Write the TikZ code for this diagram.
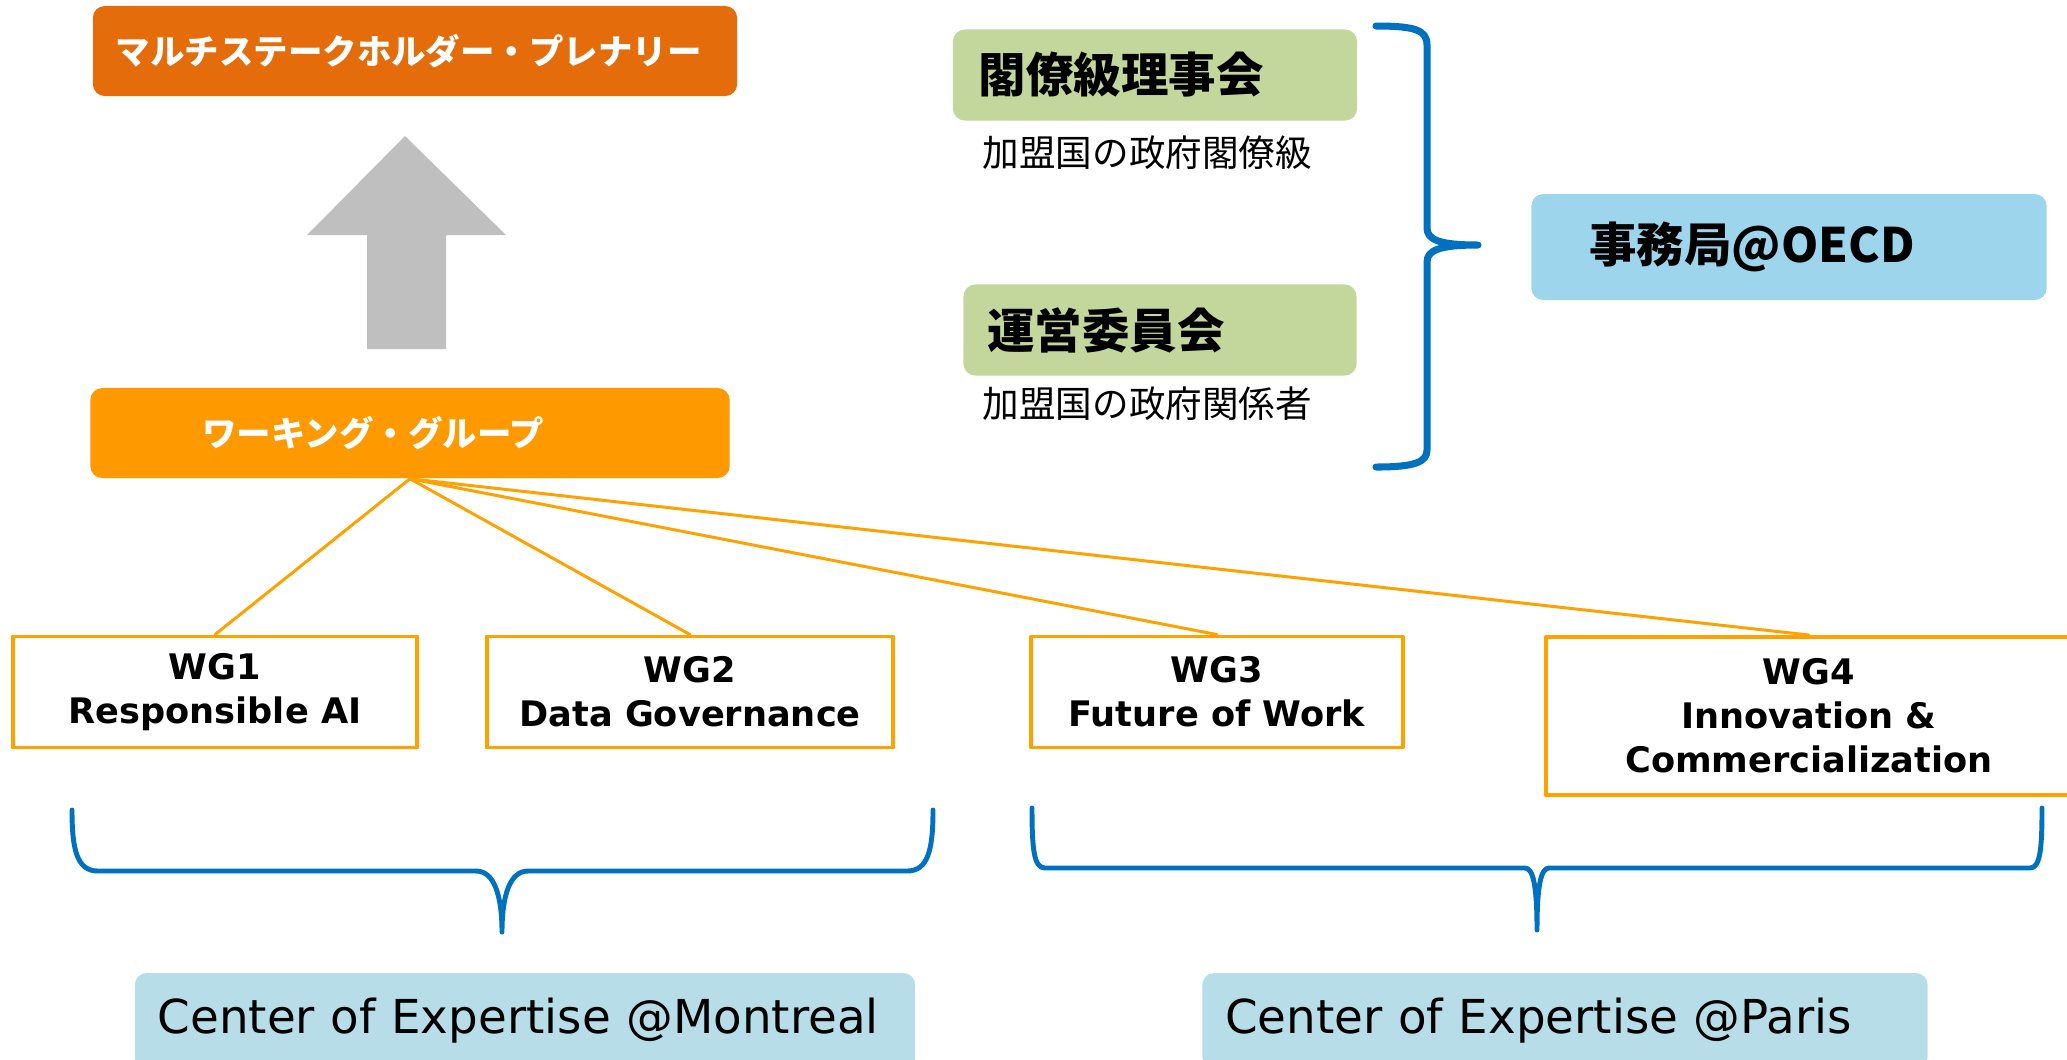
\documentclass[tikz,border=0pt]{standalone}
\usepackage{fontspec}
\setmainfont{DejaVu Sans}
\newfontfamily\jpfont{Noto Sans CJK JP}
\definecolor{plenorange}{HTML}{E46C0A}
\definecolor{wgorange}{HTML}{FF9900}
\definecolor{lineorange}{HTML}{FFA200}
\definecolor{boardgreen}{HTML}{C3D69B}
\definecolor{secblue}{HTML}{9DD5EC}
\definecolor{coeblue}{HTML}{B7DEE8}
\definecolor{braceblue}{HTML}{0070C0}
\definecolor{arrowgray}{HTML}{BFBFBF}

\begin{document}
\begin{tikzpicture}[x=0.01cm,y=-0.01cm,line cap=round,line join=round,
  box/.style={rounded corners=0.12cm,inner sep=0pt,align=left},
  wgbox/.style={draw=lineorange,line width=1.1pt,fill=white,inner sep=0pt,align=center,
    minimum height=1.11cm,font=\bfseries\fontsize{10}{12.5}\selectfont},
  conn/.style={draw=lineorange,line width=0.85pt},
  brace/.style={draw=braceblue,line width=1.4pt}]
  \useasboundingbox (0,0) rectangle (2067,1059);
  \node[box,fill=plenorange,minimum width=6.44cm,minimum height=0.90cm,text width=5.98cm,
    text=white,font=\jpfont\bfseries\fontsize{9.8}{12}\selectfont] (plenary) at (415,51) {マルチステークホルダー・プレナリー};
  \fill[arrowgray] (405,136) -- (506,235) -- (446,235) -- (446,349) -- (367,349) -- (367,235) -- (307,235) -- cycle;
  \node[box,fill=wgorange,minimum width=6.39cm,minimum height=0.90cm,text width=4.15cm,
    text=white,font=\jpfont\bfseries\fontsize{9.8}{12}\selectfont] (wgall) at (410,433) {ワーキング・グループ};
  \node[wgbox,minimum width=4.04cm] (wg1) at (215,692) {WG1\\Responsible AI};
  \node[wgbox,minimum width=4.06cm] (wg2) at (690,692) {WG2\\Data Governance};
  \node[wgbox,minimum width=3.71cm] (wg3) at (1217,692) {WG3\\Future of Work};
  \node[wgbox,minimum width=5.26cm,minimum height=1.58cm] (wg4) at (1809,716) {WG4\\Innovation \&\\Commercialization};
  \foreach \wg in {wg1,wg2,wg3,wg4}
    \draw[conn] (wgall.south) -- (\wg.north);
  \node[box,fill=boardgreen,minimum width=4.04cm,minimum height=0.91cm,text width=3.52cm,
    font=\jpfont\bfseries\fontsize{13.5}{15}\selectfont] (council) at (1155,75) {閣僚級理事会};
  \node[anchor=west,inner sep=0pt,font=\jpfont\fontsize{10.4}{12}\selectfont] (councilnote) at (982,153) {加盟国の政府閣僚級};
  \node[box,fill=boardgreen,minimum width=3.93cm,minimum height=0.91cm,text width=3.45cm,
    font=\jpfont\bfseries\fontsize{13.5}{15}\selectfont] (steering) at (1160,330) {運営委員会};
  \node[anchor=west,inner sep=0pt,font=\jpfont\fontsize{10.4}{12}\selectfont] (steeringnote) at (982,404) {加盟国の政府関係者};
  \node[box,fill=secblue,minimum width=5.15cm,minimum height=1.06cm,text width=3.99cm,
    font=\jpfont\bfseries\fontsize{13.5}{15}\selectfont] (secretariat) at (1789,247) {事務局@OECD};
  \draw[brace,line width=2pt] (1376,26) .. controls (1415,26) and (1427,30) .. (1427,45)
    -- (1427,228) .. controls (1427,240) and (1440,245) .. (1478,245)
    .. controls (1440,245) and (1427,250) .. (1427,262)
    -- (1427,450) .. controls (1427,462) and (1415,467) .. (1376,467);
  \draw[brace] (72,810) .. controls (72,850) and (77,871) .. (98,871)
    -- (476,871) .. controls (494,871) and (502,895) .. (502,932)
    .. controls (502,895) and (510,871) .. (528,871)
    -- (907,871) .. controls (928,871) and (933,850) .. (933,810);
  \draw[brace] (1032,808) .. controls (1032,850) and (1034,868) .. (1045,868)
    -- (1525,868) .. controls (1533,868) and (1537,885) .. (1537,930)
    .. controls (1537,885) and (1541,868) .. (1549,868)
    -- (2030,868) .. controls (2040,868) and (2042,850) .. (2042,808);
  \node[box,fill=coeblue,minimum width=7.80cm,minimum height=0.96cm,text width=7.34cm,
    font=\fontsize{13.3}{15}\selectfont] (montreal) at (525,1021) {Center of Expertise @Montreal};
  \node[box,fill=coeblue,minimum width=7.25cm,minimum height=0.96cm,text width=6.79cm,
    font=\fontsize{13.3}{15}\selectfont] (paris) at (1565,1021) {Center of Expertise @Paris};
\end{tikzpicture}
\end{document}
